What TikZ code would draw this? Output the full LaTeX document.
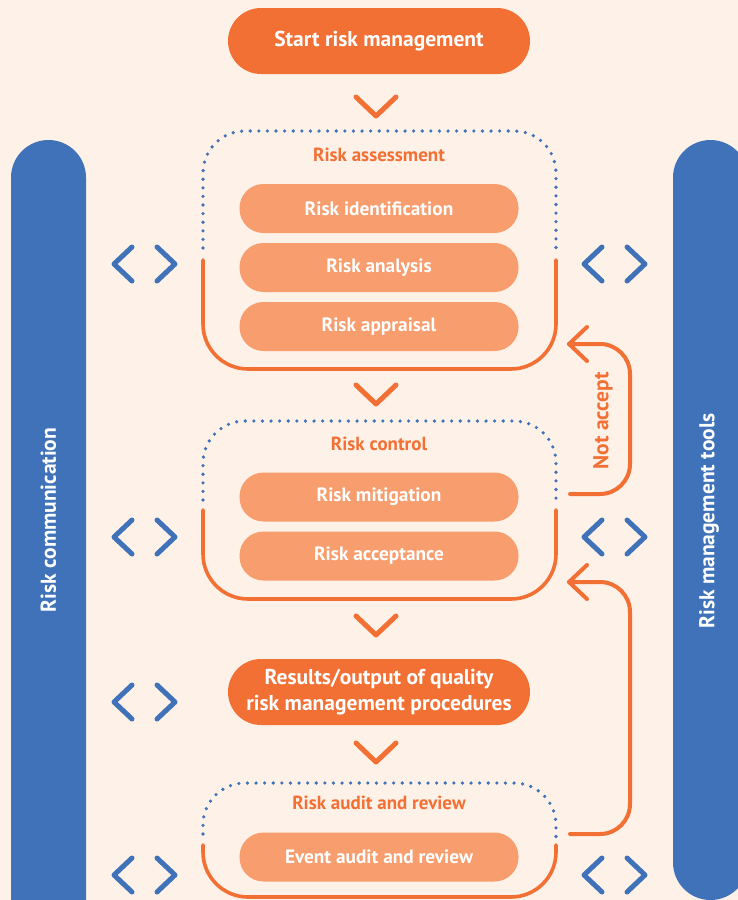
\documentclass[tikz,border=0pt]{standalone}
\usepackage{fontspec}
\setmainfont{PT Sans}
\usetikzlibrary{calc}
\begin{document}
\begin{tikzpicture}[x=1pt,y=-1pt,
  bar/.style={fill=myblue, draw=none},
  darkpill/.style={fill=dorange, draw=none, text=white, font=\bfseries\fontsize{21.5}{26.5}\selectfont, rounded corners=33pt, minimum width=302pt, minimum height=66pt, inner sep=0pt, align=center},
  lightpill/.style={fill=lorange, draw=none, text=white, font=\bfseries\fontsize{19.3}{23}\selectfont, rounded corners=24pt, minimum width=279pt, minimum height=49pt, inner sep=0pt},
  grouptitle/.style={text=dorange, font=\bfseries\fontsize{19}{23}\selectfont, inner sep=0pt},
  bartext/.style={text=white, font=\bfseries\fontsize{21.5}{25}\selectfont, rotate=90, inner sep=0pt},
  dotline/.style={draw=myblue, line width=3.6pt, line cap=round, dash pattern=on 0pt off 8.6pt, rounded corners=42pt},
  oline/.style={draw=dorange, line width=3.6pt, line cap=round, rounded corners=45pt},
  ochev/.style={draw=dorange, line width=5pt, line cap=round, line join=round},
  bchev/.style={draw=myblue, line width=5pt, line cap=round, line join=round},
  loopline/.style={draw=dorange, line width=4pt, line cap=round, line join=round, rounded corners=30pt},
]
\definecolor{bg}{HTML}{FEF1E8}
\definecolor{myblue}{HTML}{3F72B8}
\definecolor{dorange}{HTML}{F37035}
\definecolor{lorange}{HTML}{F89D6D}
\fill[bg] (0,0) rectangle (738,900);
\useasboundingbox (0,0) rectangle (738,900);

% side bars
\fill[bar, rounded corners=37.5pt] (11,140) rectangle (86,940);
\fill[bar, rounded corners=37.5pt] (673,140) rectangle (748,900);
\node[bartext] (comm) at (48.5,520) {Risk communication};
\node[bartext] (tools) at (709,521) {Risk management tools};

% start
\node[darkpill] (start) at (379,41) {Start risk management};

% chevrons down
\foreach \y in {97,385,616,743}{
  \draw[ochev] (356,\y) -- (376,\y+19) -- (396,\y);
}

% blue chevrons
\foreach \y in {264,537,702,875}{
  \draw[bchev] (132,\y-17) -- (114,\y) -- (132,\y+17);
  \draw[bchev] (157,\y-17) -- (175,\y) -- (157,\y+17);
}
\foreach \y in {264,537,875}{
  \draw[bchev] (602,\y-17) -- (584,\y) -- (602,\y+17);
  \draw[bchev] (627,\y-17) -- (645,\y) -- (627,\y+17);
}

% Risk assessment group
\draw[dotline] (203,248) -- (203,131) -- (556,131) -- (556,248);
\draw[oline] (203,260) -- (203,369) -- (556,369) -- (556,260);
\node[grouptitle] (ra) at (379,155) {Risk assessment};
\node[lightpill] (ident) at (379,208.5) {Risk identification};
\node[lightpill] (anal) at (379,267.5) {Risk analysis};
\node[lightpill] (appr) at (379,326.5) {Risk appraisal};

% Risk control group
\draw[dotline] (203,500) -- (203,421) -- (556,421) -- (556,500);
\draw[oline] (203,510) -- (203,599) -- (556,599) -- (556,510);
\node[grouptitle] (rc) at (379,444) {Risk control};
\node[lightpill] (mitig) at (379,497) {Risk mitigation};
\node[lightpill] (accept) at (379,556) {Risk acceptance};

% Results
\node[darkpill] (results) at (379,692) {Results/output of quality\\risk management procedures};

% Risk audit group
\draw[dotline] (203,834) -- (203,783) -- (556,783) -- (556,838);
\draw[oline] (203,845) -- (203,897) -- (556,897) -- (556,845);
\node[grouptitle] (raud) at (379,803) {Risk audit and review};
\node[lightpill] (event) at (379,857) {Event audit and review};

% loops
\coordinate (l1s) at (570,494);
\coordinate (l1e) at (569,344);
\draw[loopline] (l1s) -- (630,494) -- (630,344) -- (l1e);
\draw[loopline, rounded corners=0pt] ($(l1e)+(18,-17)$) -- (l1e) -- ($(l1e)+(18,17)$);
\node[grouptitle, font=\bfseries\fontsize{21.5}{25}\selectfont, rotate=90] (na) at (603,421) {Not accept};

\coordinate (l2s) at (570,834);
\coordinate (l2e) at (569,582);
\draw[loopline] (l2s) -- (630,834) -- (630,582) -- (l2e);
\draw[loopline, rounded corners=0pt] ($(l2e)+(18,-17)$) -- (l2e) -- ($(l2e)+(18,17)$);
\end{tikzpicture}
\end{document}
